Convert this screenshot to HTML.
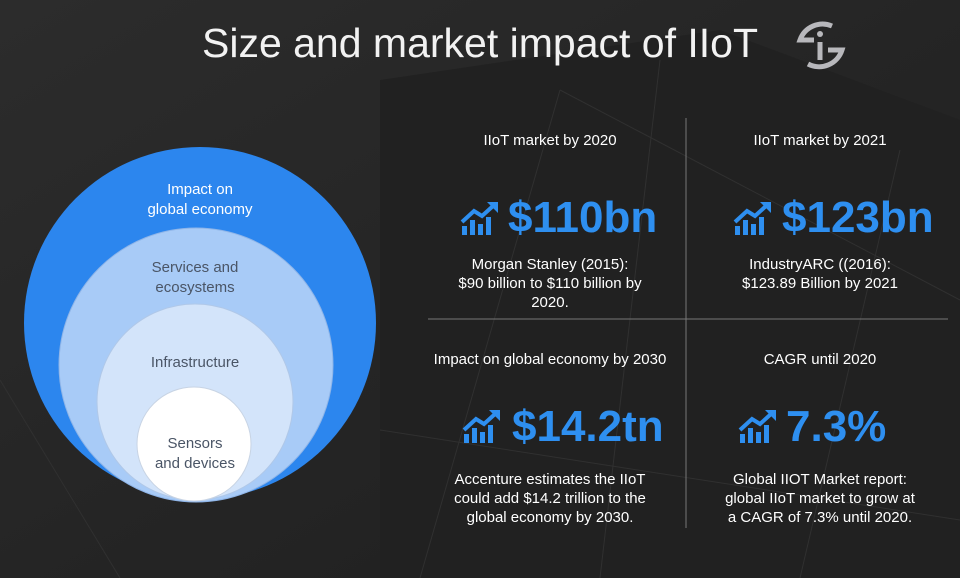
<!DOCTYPE html>
<html><head><style>
body{margin:0;width:960px;height:578px;overflow:hidden;background:#262626;font-family:"Liberation Sans",sans-serif;position:relative}
.t{position:absolute;text-align:center;color:#fff}
.big{position:absolute;color:#2e8ff0;font-weight:bold;font-size:44px;white-space:nowrap}
.small{font-size:15px;line-height:19px}
</style></head><body>
<svg width="960" height="578" style="position:absolute;left:0;top:0">
<defs><linearGradient id="bg" x1="0" y1="0" x2="1" y2="1"><stop offset="0" stop-color="#2c2c2c"/><stop offset="1" stop-color="#1e1e1e"/></linearGradient></defs>
<rect width="960" height="578" fill="url(#bg)"/>
<polygon points="380,80 720,30 960,120 960,578 380,578" fill="#212121"/>
<g stroke="#303030" stroke-width="1" fill="none">
<line x1="420" y1="578" x2="560" y2="90"/><line x1="560" y1="90" x2="960" y2="300"/>
<line x1="600" y1="578" x2="660" y2="60"/><line x1="800" y1="578" x2="900" y2="150"/>
<line x1="0" y1="380" x2="120" y2="578"/><line x1="380" y1="430" x2="960" y2="520"/>
</g>
<line x1="686" y1="118" x2="686" y2="528" stroke="#777" stroke-width="1"/>
<line x1="428" y1="319" x2="948" y2="319" stroke="#777" stroke-width="1"/>
<circle cx="200" cy="323" r="176" fill="#2c86ee"/>
<circle cx="196" cy="365" r="137" fill="#a8cbf7" stroke="#8fb5e8"/>
<circle cx="195" cy="402" r="98" fill="#d3e4fa" stroke="#b0c8e8"/>
<circle cx="194" cy="444" r="57" fill="#ffffff" stroke="#c8d4e4"/>
<g stroke="#b8b8bc" stroke-width="5" fill="none">
<path d="M832 26 A24 24 0 0 0 800 40 L814 40"/>
<path d="M808 64 A24 24 0 0 0 842 50 L828 50"/>
<line x1="820" y1="42" x2="820" y2="60"/>
</g>
<circle cx="820" cy="34" r="3" fill="#b8b8bc"/>
<g fill="#2e8ff0">
<g transform="translate(460,202)"><path d="M2 20 L14 9 L22 14 L33 4" stroke="#2e8ff0" stroke-width="4" fill="none"/><polygon points="27,0 38,0 38,11"/><rect x="2" y="24" width="5" height="9"/><rect x="10" y="18" width="5" height="15"/><rect x="18" y="22" width="5" height="11"/><rect x="26" y="15" width="5" height="18"/></g>
<g transform="translate(733,202)"><path d="M2 20 L14 9 L22 14 L33 4" stroke="#2e8ff0" stroke-width="4" fill="none"/><polygon points="27,0 38,0 38,11"/><rect x="2" y="24" width="5" height="9"/><rect x="10" y="18" width="5" height="15"/><rect x="18" y="22" width="5" height="11"/><rect x="26" y="15" width="5" height="18"/></g>
<g transform="translate(462,410)"><path d="M2 20 L14 9 L22 14 L33 4" stroke="#2e8ff0" stroke-width="4" fill="none"/><polygon points="27,0 38,0 38,11"/><rect x="2" y="24" width="5" height="9"/><rect x="10" y="18" width="5" height="15"/><rect x="18" y="22" width="5" height="11"/><rect x="26" y="15" width="5" height="18"/></g>
<g transform="translate(738,410)"><path d="M2 20 L14 9 L22 14 L33 4" stroke="#2e8ff0" stroke-width="4" fill="none"/><polygon points="27,0 38,0 38,11"/><rect x="2" y="24" width="5" height="9"/><rect x="10" y="18" width="5" height="15"/><rect x="18" y="22" width="5" height="11"/><rect x="26" y="15" width="5" height="18"/></g>
</g>
</svg>
<div class="t" style="left:130px;top:20px;width:700px;font-size:41px;color:#f2f2f2">Size and market impact of IIoT</div>
<div class="t" style="left:110px;top:180px;width:180px;font-size:15px;line-height:20px">Impact on<br>global economy</div>
<div class="t" style="left:105px;top:258px;width:180px;font-size:15px;line-height:20px;color:#4a5566">Services and<br>ecosystems</div>
<div class="t" style="left:105px;top:354px;width:180px;font-size:15px;color:#4a5566">Infrastructure</div>
<div class="t" style="left:105px;top:434px;width:180px;font-size:15px;line-height:20px;color:#4a5566">Sensors<br>and devices</div>

<div class="t small" style="left:430px;top:131px;width:240px">IIoT market by 2020</div>
<div class="t small" style="left:700px;top:131px;width:240px">IIoT market by 2021</div>
<div class="t small" style="left:410px;top:350px;width:280px">Impact on global economy by 2030</div>
<div class="t small" style="left:700px;top:350px;width:240px">CAGR until 2020</div>

<div class="big" style="left:508px;top:193px">$110bn</div>
<div class="big" style="left:782px;top:193px">$123bn</div>
<div class="big" style="left:512px;top:402px">$14.2tn</div>
<div class="big" style="left:786px;top:402px">7.3%</div>
<div class="t small" style="left:430px;top:255px;width:240px">Morgan Stanley (2015):<br>$90 billion to $110 billion by<br>2020.</div>
<div class="t small" style="left:700px;top:255px;width:240px">IndustryARC ((2016):<br>$123.89 Billion by 2021</div>
<div class="t small" style="left:420px;top:470px;width:260px">Accenture estimates the IIoT<br>could add $14.2 trillion to the<br>global economy by 2030.</div>
<div class="t small" style="left:700px;top:470px;width:240px">Global IIOT Market report:<br>global IIoT market to grow at<br>a CAGR of 7.3% until 2020.</div>
</body></html>
